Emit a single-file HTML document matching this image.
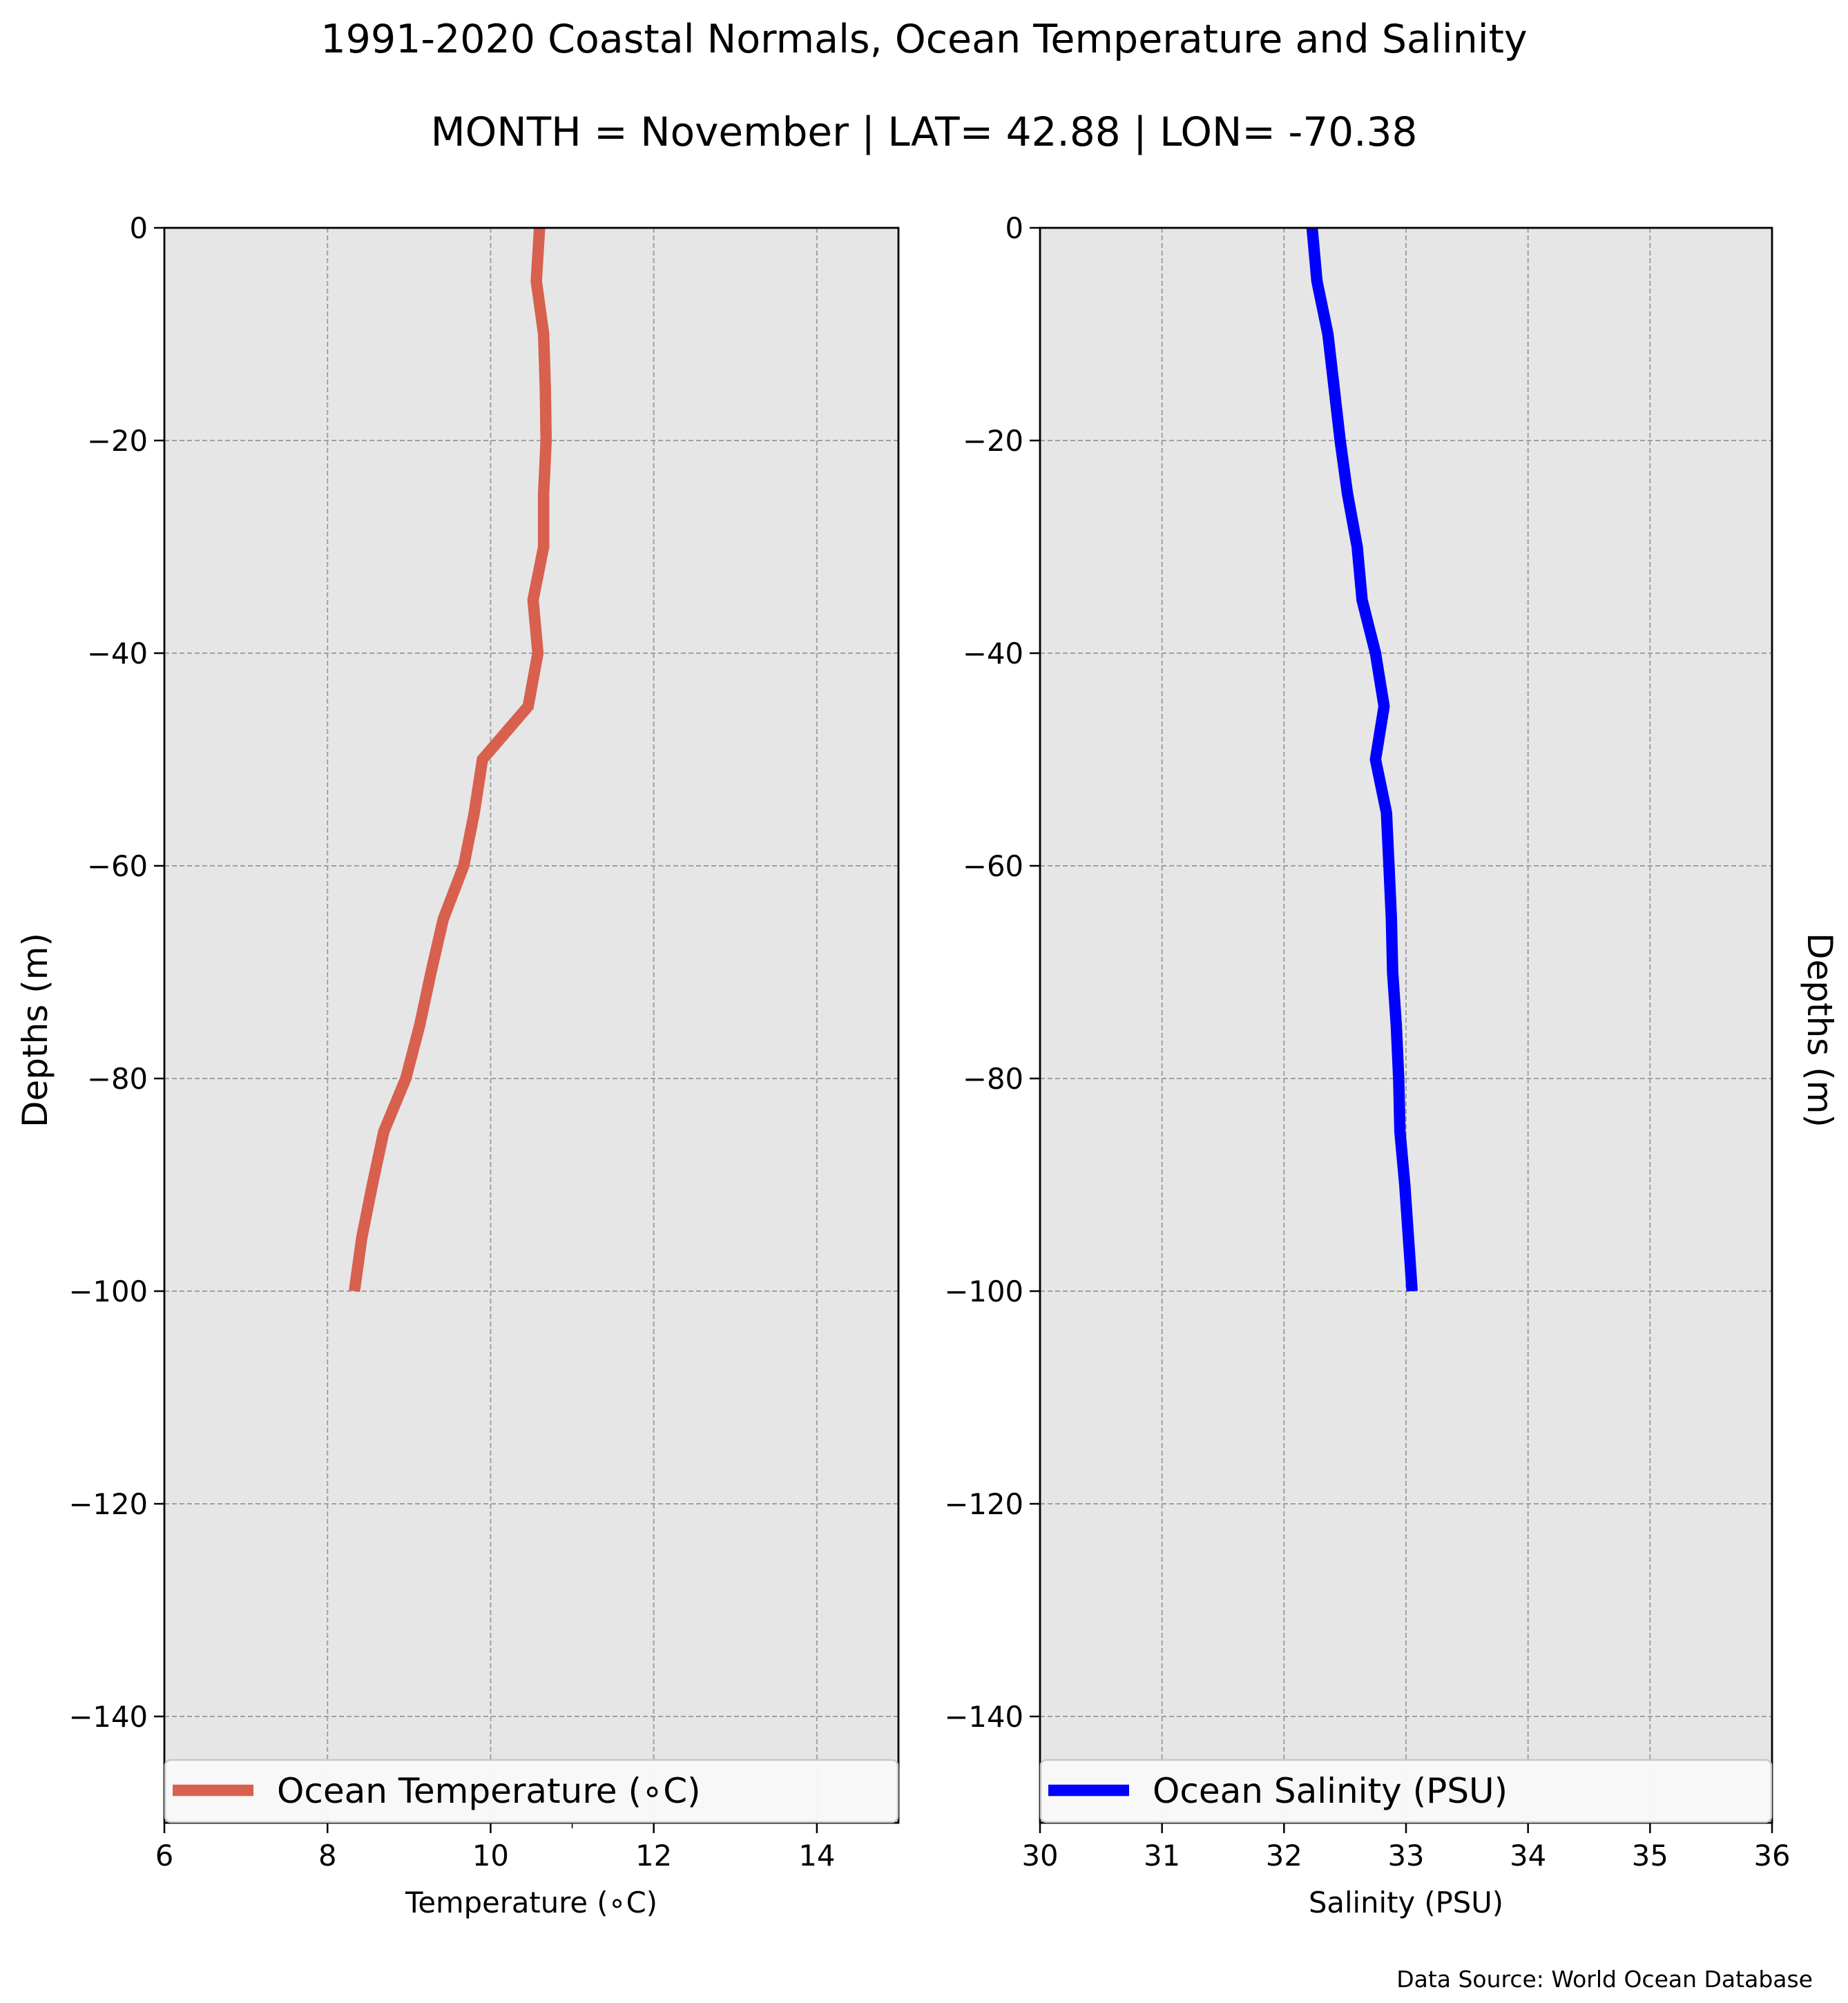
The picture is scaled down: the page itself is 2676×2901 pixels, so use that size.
<!DOCTYPE html>
<html><head><meta charset="utf-8"><style>
html,body{margin:0;padding:0;background:#fff;}
svg{display:block;font-family:"DejaVu Sans","Liberation Sans",sans-serif;}
</style></head><body>
<svg id="chart" width="2676" height="2901" viewBox="0 0 2676 2901" xmlns="http://www.w3.org/2000/svg">
<text x="1338" y="76" font-size="57" text-anchor="middle">1991-2020 Coastal Normals, Ocean Temperature and Salinity</text>
<text x="1338" y="211" font-size="58" text-anchor="middle">MONTH = November | LAT= 42.88 | LON= -70.38</text>
<g id="left"></g>
<g id="right"></g>
<text x="2625" y="2878" font-size="33" text-anchor="end">Data Source: World Ocean Database</text>
</svg>
<script>
const depths = [0,-5,-10,-15,-20,-25,-30,-35,-40,-45,-50,-55,-60,-65,-70,-75,-80,-85,-90,-95,-100];
const temperature = [10.60,10.56,10.65,10.67,10.68,10.65,10.65,10.52,10.58,10.46,9.90,9.80,9.67,9.42,9.27,9.13,8.96,8.69,8.55,8.42,8.33];
const salinity = [32.23,32.27,32.36,32.41,32.46,32.52,32.60,32.64,32.75,32.82,32.75,32.84,32.86,32.88,32.89,32.92,32.94,32.95,32.99,33.02,33.05];
const yTicks = [0,-20,-40,-60,-80,-100,-120,-140];
const tempTicks = [6,8,10,12,14];
const salTicks = [30,31,32,33,34,35,36];

const NS = "http://www.w3.org/2000/svg";
function mk(parent, tag, attrs){const e=document.createElementNS(NS,tag);for(const k in attrs)e.setAttribute(k,attrs[k]);parent.appendChild(e);return e;}

function panel(g, x0, x1, xmin, xmax, xTicksArr, vals, color, legendText, xlabel, prefix, minorTicks){
  const y0=330, y1=2640, dmin=-150, dmax=0;
  const sx=v=>x0+(v-xmin)/(xmax-xmin)*(x1-x0);
  const sy=d=>y0+(dmax-d)/(dmax-dmin)*(y1-y0);
  const bg=mk(g,'rect',{x:x0,y:y0,width:x1-x0,height:y1-y0,fill:'#e6e6e6'});
  
  
  xTicksArr.forEach(t=>{
    const gl=mk(g,'line',{x1:sx(t),x2:sx(t),y1:y0,y2:y1,stroke:'#a0a0a0','stroke-width':2,'stroke-dasharray':'7,4'});
    
    
    const tk=mk(g,'line',{x1:sx(t),x2:sx(t),y1:y1,y2:y1+15,stroke:'#000','stroke-width':2.5});
    
    
    const tl=mk(g,'text',{x:sx(t),y:y1+62,'font-size':41.7,'text-anchor':'middle'});
    tl.textContent=t;
    
    
  });
  (minorTicks||[]).forEach(t=>{
    const mt=mk(g,'line',{x1:sx(t),x2:sx(t),y1:y1,y2:y1+8,stroke:'#000','stroke-width':1.6});
    
    
  });
  yTicks.forEach(t=>{
    const gl=mk(g,'line',{x1:x0,x2:x1,y1:sy(t),y2:sy(t),stroke:'#a0a0a0','stroke-width':2,'stroke-dasharray':'7,4'});
    
    
    const tk=mk(g,'line',{x1:x0-15,x2:x0,y1:sy(t),y2:sy(t),stroke:'#000','stroke-width':2.5});
    
    
    const tl=mk(g,'text',{x:x0-24,y:sy(t)+15,'font-size':41.7,'text-anchor':'end'});
    tl.textContent=(t<0?'\u2212'+(-t):t);
    
    
  });
  const pts=vals.map((v,i)=>sx(v).toFixed(1)+','+sy(depths[i]).toFixed(1)).join(' ');
  const ln=mk(g,'polyline',{points:pts,fill:'none',stroke:color,'stroke-width':16.5,'stroke-linejoin':'miter','stroke-linecap':'butt'});
  
  
  const sp=mk(g,'rect',{x:x0,y:y0,width:x1-x0,height:y1-y0,fill:'none',stroke:'#000','stroke-width':2.8});
  
  
  const lg=mk(g,'g',{});
  
  
  mk(lg,'rect',{x:x0+1,y:2549,width:x1-x0-2,height:90,rx:8,fill:'#f9f9f9','fill-opacity':0.95,stroke:'#c8c8c8','stroke-width':2.5});
  const ll=mk(lg,'line',{x1:x0+12,x2:x0+129,y1:2593,y2:2593,stroke:color,'stroke-width':16.5});
  
  
  const lt=mk(lg,'text',{x:x0+163,y:2611,'font-size':50});
  lt.textContent=legendText;
  
  
  const xl=mk(g,'text',{x:(x0+x1)/2,y:2770,'font-size':41.7,'text-anchor':'middle'});
  xl.textContent=xlabel;
  
  
}
panel(document.getElementById('left'),238,1301,6,15,tempTicks,temperature,'#d8604e','Ocean Temperature (\u2218C)','Temperature (\u2218C)','temperature',[11]);
panel(document.getElementById('right'),1506,2566,30,36,salTicks,salinity,'#0000ff','Ocean Salinity (PSU)','Salinity (PSU)','salinity',[]);
const svg=document.getElementById('chart');
const yl=mk(svg,'text',{x:0,y:0,'font-size':50,'text-anchor':'middle',transform:'translate(68,1492) rotate(-90)'});
yl.textContent='Depths (m)';


const yr=mk(svg,'text',{x:0,y:0,'font-size':50,'text-anchor':'middle',transform:'translate(2618,1492) rotate(90)'});
yr.textContent='Depths (m)';


</script>
</body></html>
